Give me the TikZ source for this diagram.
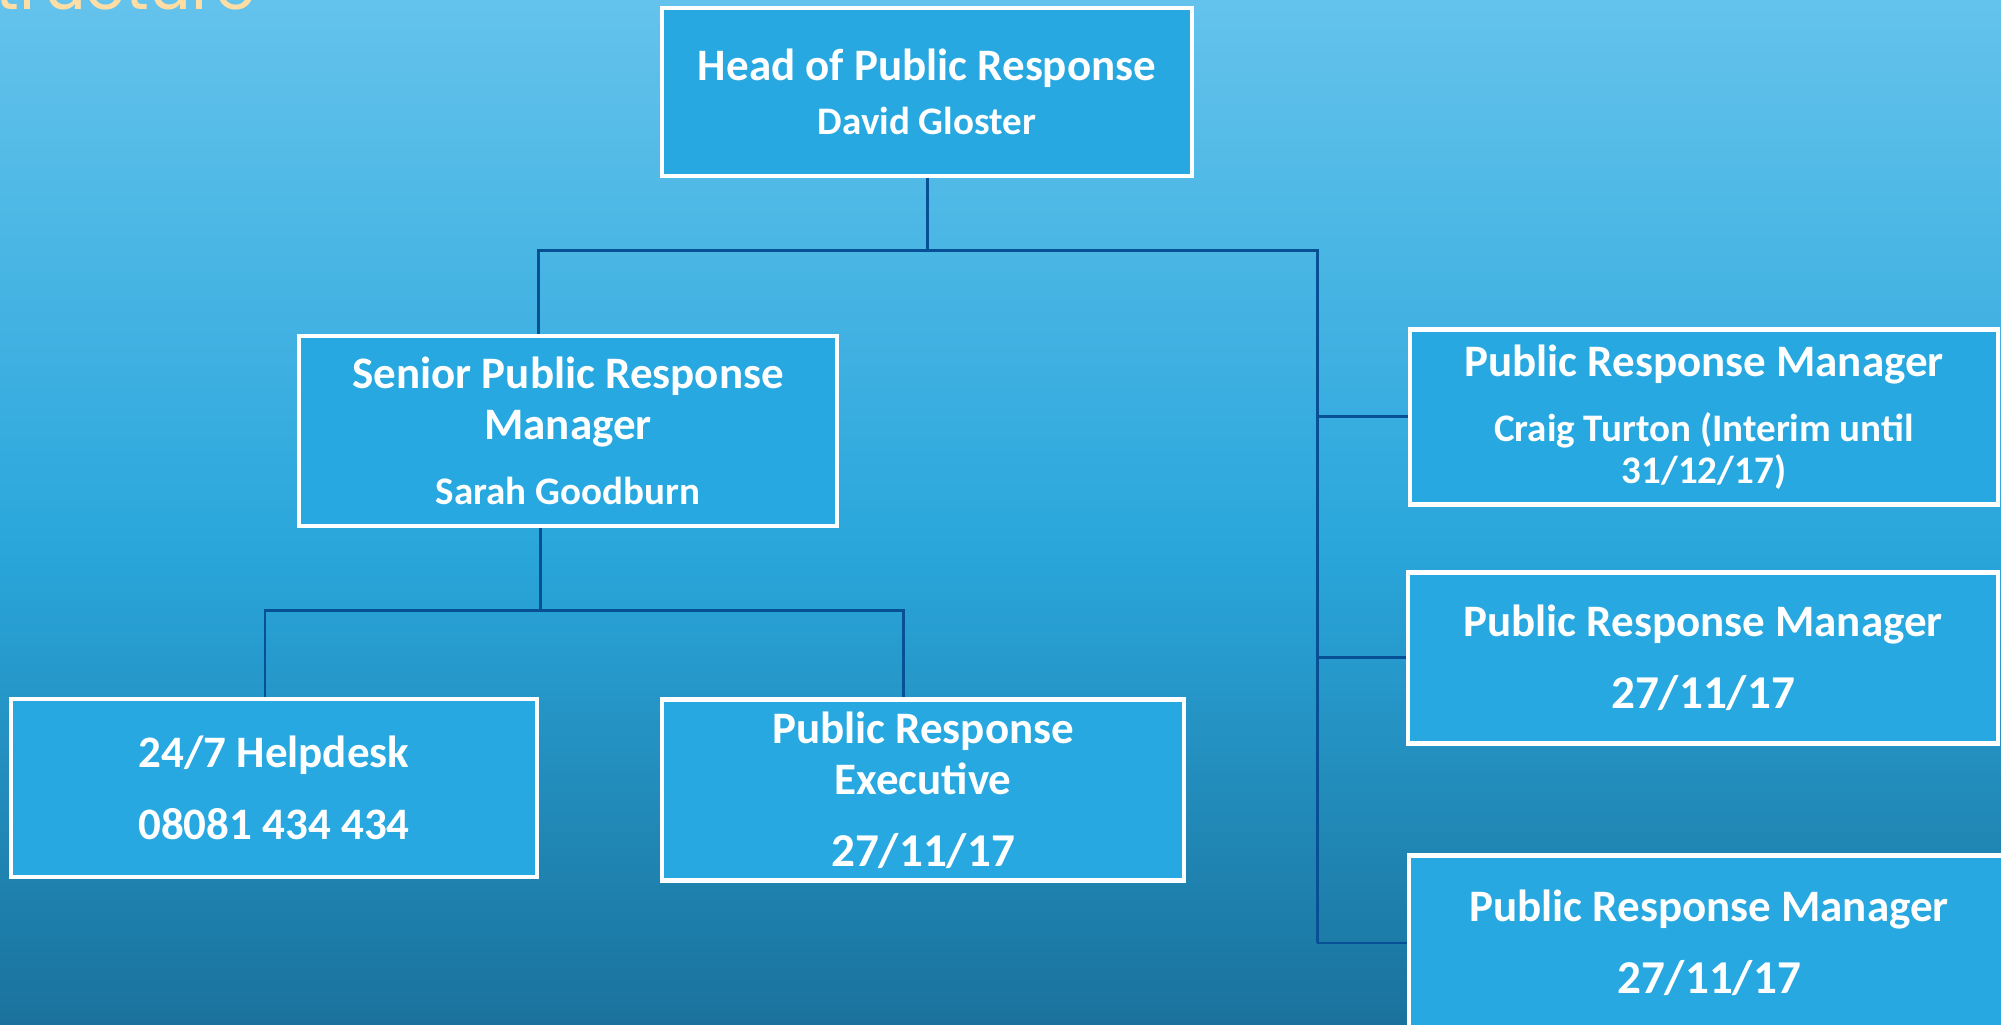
\documentclass[tikz,border=0pt]{standalone}
\usepackage{fontspec}
\setmainfont{Carlito}
\newfontfamily\headingfont{Poppins}
\usetikzlibrary{positioning}

\definecolor{bgtop}{RGB}{100,195,236}
\definecolor{bgmid}{RGB}{42,166,219}
\definecolor{bgbot}{RGB}{26,114,156}
\definecolor{boxfill}{RGB}{39,168,224}
\definecolor{linkcol}{RGB}{8,80,150}
\definecolor{headingcol}{RGB}{255,222,166}

\newcommand{\rolesize}{\fontsize{12.8}{14.5}\selectfont}
\newcommand{\namesize}{\fontsize{11.1}{13}\selectfont}
\newcommand{\datesize}{\fontsize{13.4}{14.5}\selectfont}

\begin{document}
\begin{tikzpicture}[x=0.01cm,y=0.01cm,
	post/.style={draw=white,line width=1.2pt,fill=boxfill,text=white,align=center,inner sep=0pt,font=\bfseries\rolesize},
	link/.style={draw=linkcol,line width=0.85pt}]

	\useasboundingbox (0,0) rectangle (2001,1025);
	\shade[top color=bgtop,bottom color=bgmid] (0,475) rectangle (2001,1025);
	\shade[top color=bgmid,bottom color=bgbot] (0,0) rectangle (2001,475.5);

	% slide heading, cut off by the page edge
	\node[anchor=base east,inner sep=0pt,text=headingcol,font=\headingfont\fontsize{18.6}{20}\selectfont] (heading) at (257,1015) {Structure};

	% boxes
	\node[post,minimum width=5.3cm,minimum height=1.68cm] (head) at (927,933)
		{Head of Public Response\\[1pt]{\namesize David Gloster}};
	\node[post,minimum width=5.37cm,minimum height=1.9cm] (senior) at (568,594)
		{Senior Public Response\\Manager\\[4pt]{\namesize Sarah Goodburn}};
	\node[post,minimum width=5.26cm,minimum height=1.78cm] (helpdesk) at (274,237)
		{24/7 Helpdesk\\[6pt]08081 434 434};
	\node[post,minimum width=5.22cm,minimum height=1.81cm] (exec) at (923,235)
		{Public Response\\Executive\\[6pt]{\datesize 27/11/17}};
	\node[post,minimum width=5.87cm,minimum height=1.75cm] (prm1) at (1704,608)
		{Public Response Manager\\[4pt]{\namesize Craig Turton (Interim until}\\[-2.5pt]{\namesize 31/12/17)}};
	\node[post,minimum width=5.89cm,minimum height=1.71cm] (prm2) at (1703,367)
		{Public Response Manager\\[6pt]{\datesize 27/11/17}};
	\node[post,minimum width=6.0cm,minimum height=1.75cm] (prm3) at (1709,82)
		{Public Response Manager\\[6pt]{\datesize 27/11/17}};

	% connectors
	\coordinate (busL) at (538,774);
	\coordinate (busR) at (1317,774);
	\coordinate (lowL) at (265,414);
	\coordinate (lowR) at (903,414);
	\coordinate (lowM) at (540,414);

	\draw[link] (head.south) -- (head.south |- busL);
	\draw[link] (busL |- senior.north) -- (busL) -- (busR) -- (busR |- prm3.west);
	\draw[link] (busR |- prm1.west) -- (prm1.west);
	\draw[link] (busR |- prm2.west) -- (prm2.west);
	\draw[link] (busR |- prm3.west) -- (prm3.west);
	\draw[link] (lowM |- senior.south) -- (lowM);
	\draw[link] (lowL |- helpdesk.north) -- (lowL) -- (lowR) -- (lowR |- exec.north);

\end{tikzpicture}
\end{document}
